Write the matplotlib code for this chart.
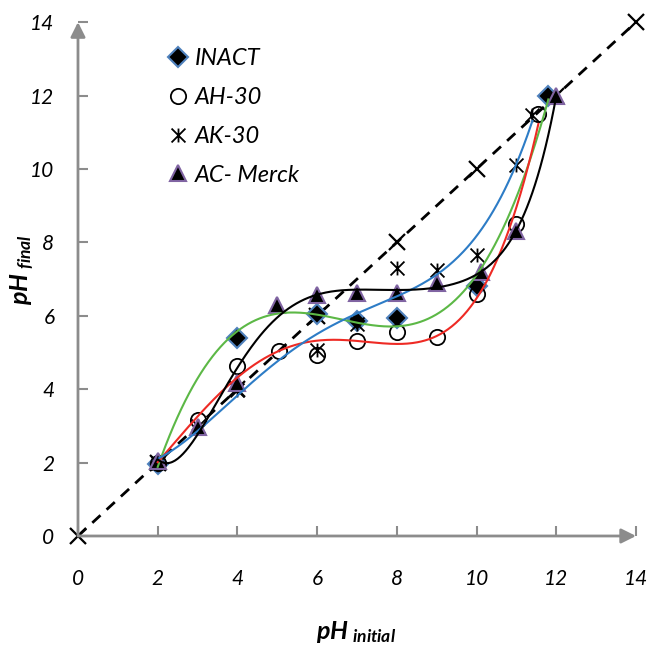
import numpy as np
import matplotlib.pyplot as plt
from matplotlib.path import Path

plt.rcParams['font.family'] = ['Lato', 'DejaVu Sans']
plt.rcParams['mathtext.fontset'] = 'custom'
plt.rcParams['mathtext.bfit'] = 'Lato:italic:bold'
plt.rcParams['mathtext.it'] = 'Lato:italic'
plt.rcParams['mathtext.rm'] = 'Lato'

# pH initial / pH final for each adsorbent
inact_x = [2, 4, 6, 7, 8, 10, 11.8]
inact_y = [1.95, 5.4, 6.05, 5.87, 5.95, 6.8, 12.0]

ah_x = [2, 3, 4, 5.05, 6, 7, 8, 9, 10, 11, 11.55]
ah_y = [2.0, 3.15, 4.62, 5.05, 4.92, 5.3, 5.55, 5.42, 6.6, 8.5, 11.5]

ak_x = [2, 3, 4, 6, 7, 8, 9, 10, 11, 11.4]
ak_y = [2.0, 3.0, 3.98, 5.08, 5.78, 7.3, 7.25, 7.65, 10.12, 11.47]

ac_x = [2, 3, 4, 5, 6, 7, 8, 9, 10.1, 11, 12]
ac_y = [2.05, 2.97, 4.17, 6.29, 6.57, 6.62, 6.62, 6.89, 7.18, 8.3, 12.0]

diag = [0, 2, 4, 6, 8, 10, 12, 14]

ticks = [0, 2, 4, 6, 8, 10, 12, 14]

# Excel-like "star" marker: X with a vertical bar
star = Path([(-1, -1), (1, 1), (-1, 1), (1, -1), (0, -1), (0, 1)],
            [Path.MOVETO, Path.LINETO, Path.MOVETO, Path.LINETO,
             Path.MOVETO, Path.LINETO])

fig = plt.figure(figsize=(6.51, 6.50), dpi=100)
ax = fig.add_axes([0.1198, 0.1754, 0.8572, 0.7906])

ax.plot(diag, diag, color='black', ls=(0, (4, 3)), lw=2,
        marker='x', ms=11, mew=1.6, zorder=2, clip_on=False)

ax.plot(inact_x, inact_y, ls='none', marker='D', ms=10, mfc='black',
        mec='#4f81bd', mew=1.5, label='INACT', zorder=3)
ax.plot(ah_x, ah_y, ls='none', marker='o', ms=11, mfc='none',
        mec='black', mew=1.3, label='AH-30', zorder=3)
ax.plot(ak_x, ak_y, ls='none', marker=star, ms=10, color='black',
        mew=1.3, label='AK-30', zorder=3)
ax.plot(ac_x, ac_y, ls='none', marker='^', ms=12, mfc='black',
        mec='#8064a2', mew=1.5, label='AC- Merck', zorder=3)

# polynomial trend lines
fits = [(inact_x, inact_y, '#5cb846', 3),
        (ah_x, ah_y, '#ee2a24', 4),
        (ak_x, ak_y, '#2d7cc6', 4),
        (ac_x, ac_y, 'black', 6)]
for xs, ys, col, deg in fits:
    c = np.polyfit(xs, ys, deg)
    xx = np.linspace(min(xs), max(xs), 300)
    ax.plot(xx, np.polyval(c, xx), color=col, lw=1.5, zorder=4)

ax.set_xlim(0, 14)
ax.set_ylim(0, 14)
ax.set_xticks(ticks)
ax.set_yticks(ticks)
for s in ax.spines.values():
    s.set_visible(False)

# axis lines with arrow heads
axis_kw = dict(arrowstyle='-|>', color='#8c8c8c', lw=2, mutation_scale=22,
               shrinkA=0, shrinkB=0)
ax.annotate('', xy=(1, 0), xytext=(0, 0), xycoords='axes fraction',
            arrowprops=axis_kw, annotation_clip=False)
ax.annotate('', xy=(0, 1), xytext=(0, 0), xycoords='axes fraction',
            arrowprops=axis_kw, annotation_clip=False)

ax.tick_params(direction='in', colors='#8c8c8c', length=7, width=1.5,
               labelcolor='black', labelsize=15)
ax.tick_params(axis='x', pad=24)
ax.tick_params(axis='y', pad=17)
for lab in ax.get_xticklabels() + ax.get_yticklabels():
    lab.set_fontstyle('italic')

fig.text(0.547, 0.008, r'$\mathbfit{pH}_{\ \mathbfit{initial}}$', ha='center',
         va='bottom', fontsize=18)
fig.text(0.012, 0.585, r'$\mathbfit{pH}_{\ \mathbfit{final}}$', ha='left',
         va='center', fontsize=18, rotation=90)

leg = ax.legend(loc='upper left', bbox_to_anchor=(0.12, 0.99), frameon=False,
                handletextpad=0.2, labelspacing=0.75, handlelength=1.0,
                prop={'style': 'italic', 'size': 17})

fig.savefig('out.png', dpi=100)
